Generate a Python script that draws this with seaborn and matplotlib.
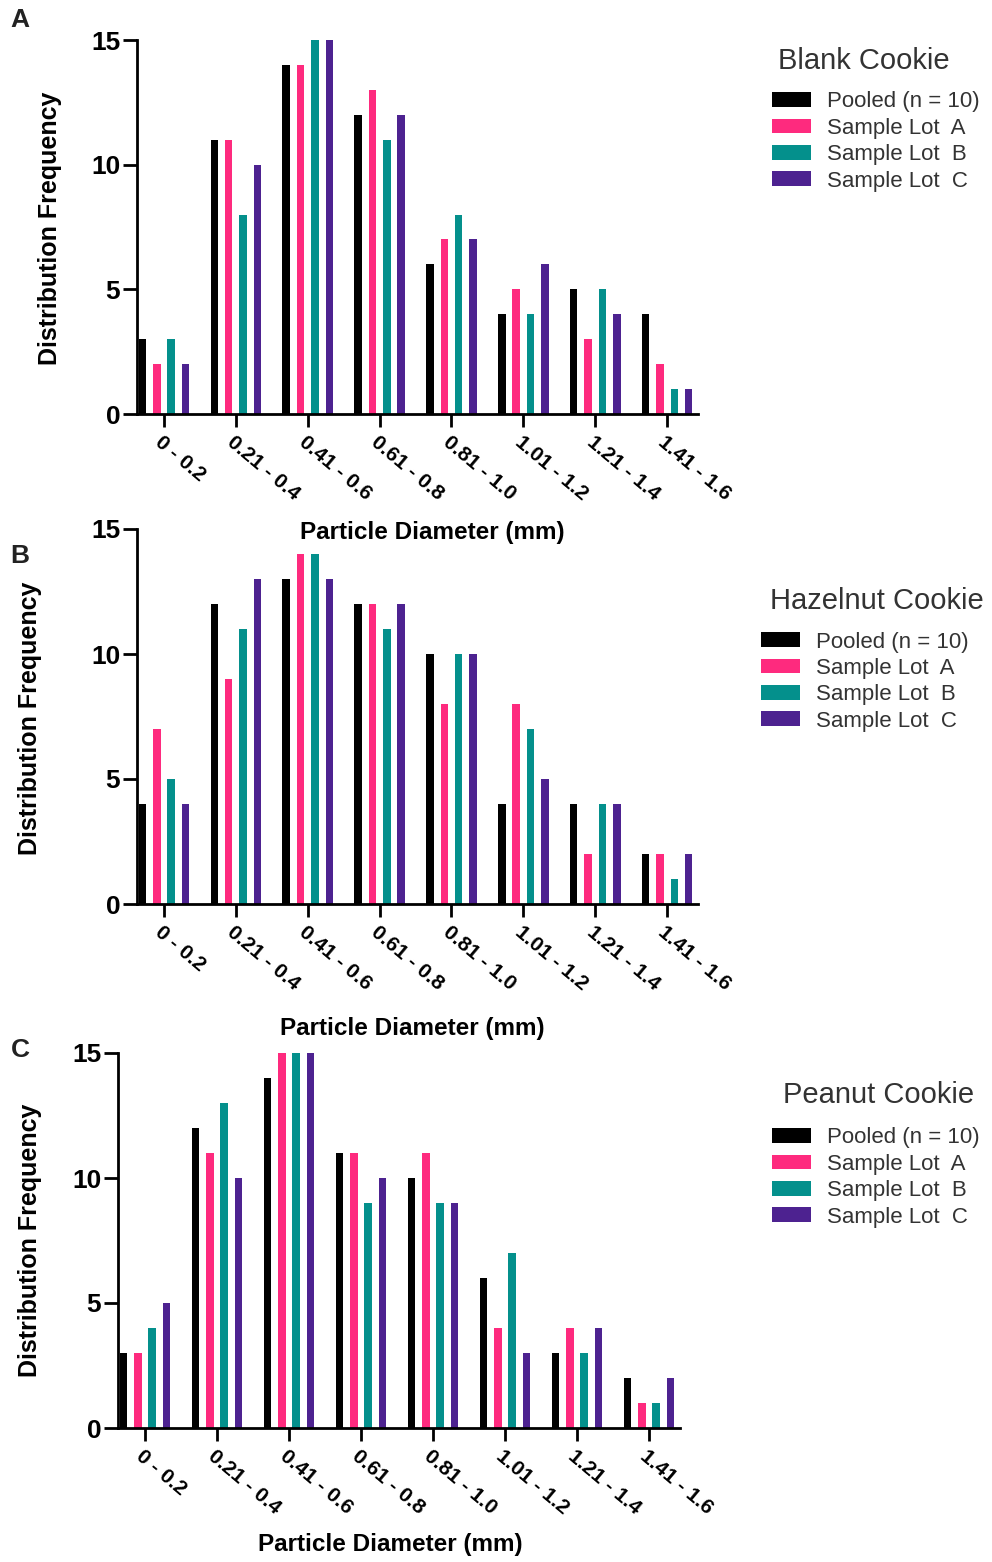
import numpy as np
import pandas as pd
import matplotlib
matplotlib.use("Agg")
import matplotlib.pyplot as plt
from matplotlib.patches import Patch
import seaborn as sns

# particle size bins (mm) and series
bins = ["0 - 0.2", "0.21 - 0.4", "0.41 - 0.6", "0.61 - 0.8",
        "0.81 - 1.0", "1.01 - 1.2", "1.21 - 1.4", "1.41 - 1.6"]
series = ["Pooled (n = 10)", "Sample Lot  A", "Sample Lot  B", "Sample Lot  C"]
colors = ["#000000", "#fe2a7e", "#04908c", "#4d2290"]

# A - blank cookie
blank_pooled = [3, 11, 14, 12, 6, 4, 5, 4]
blank_lot_a = [2, 11, 14, 13, 7, 5, 3, 2]
blank_lot_b = [3, 8, 15, 11, 8, 4, 5, 1]
blank_lot_c = [2, 10, 15, 12, 7, 6, 4, 1]

# B - hazelnut cookie
hazel_pooled = [4, 12, 13, 12, 10, 4, 4, 2]
hazel_lot_a = [7, 9, 14, 12, 8, 8, 2, 2]
hazel_lot_b = [5, 11, 14, 11, 10, 7, 4, 1]
hazel_lot_c = [4, 13, 13, 12, 10, 5, 4, 2]

# C - peanut cookie
peanut_pooled = [3, 12, 14, 11, 10, 6, 3, 2]
peanut_lot_a = [3, 11, 15, 11, 11, 4, 4, 1]
peanut_lot_b = [4, 13, 15, 9, 9, 7, 3, 1]
peanut_lot_c = [5, 10, 15, 10, 9, 3, 4, 2]

panels = [
    ("A", "Blank Cookie", [blank_pooled, blank_lot_a, blank_lot_b, blank_lot_c]),
    ("B", "Hazelnut Cookie", [hazel_pooled, hazel_lot_a, hazel_lot_b, hazel_lot_c]),
    ("C", "Peanut Cookie", [peanut_pooled, peanut_lot_a, peanut_lot_b, peanut_lot_c]),
]

sns.set_style("ticks", {"axes.edgecolor": "black", "xtick.color": "black",
                        "ytick.color": "black", "text.color": "black",
                        "axes.labelcolor": "black"})
plt.rcParams['font.family'] = ['Liberation Sans', 'DejaVu Sans']

W, H = 992, 1562
fig = plt.figure(figsize=(W / 100, H / 100), dpi=100)

# layout in pixels: axes box, label centres, panel letter, legend title and entries
layout = [
    dict(l=137, r=698, t=40, b=414, xl=(432, 533), yl=(50, 228), let=(20, 20),
         title=(778, 61), leg=(772, 91.5)),
    dict(l=137, r=698, t=529, b=904, xl=(412, 1028), yl=(30, 718), let=(20, 556),
         title=(770, 601), leg=(761, 631.5)),
    dict(l=118, r=680, t=1053, b=1428, xl=(390, 1545), yl=(30, 1240), let=(20, 1050),
         title=(783, 1095), leg=(772, 1127.5)),
]

for (letter, title, vals), lay in zip(panels, layout):
    ax = fig.add_axes([lay['l'] / W, 1 - lay['b'] / H,
                       (lay['r'] - lay['l']) / W, (lay['b'] - lay['t']) / H])
    ax.set_facecolor('none')
    df = pd.DataFrame({
        'bin': np.tile(bins, len(series)),
        'series': np.repeat(series, len(bins)),
        'freq': np.concatenate(vals),
    })
    sns.barplot(data=df, x='bin', y='freq', hue='series', hue_order=series,
                palette=colors, saturation=1, width=0.8, gap=0.48, errorbar=None,
                linewidth=0, legend=False, ax=ax)

    ax.set_ylim(0, 15)
    ax.set_xlim(-0.375, 7.43)
    ax.set_yticks([0, 5, 10, 15])
    sns.despine(ax=ax)
    for s in ['left', 'bottom']:
        ax.spines[s].set_linewidth(2.0)
    ax.tick_params(axis='y', length=10, width=2.0, pad=2, labelsize=19)
    ax.tick_params(axis='x', length=9, width=2.0, pad=4, labelsize=15)
    for lab in ax.get_yticklabels():
        lab.set_fontweight('bold')
    for lab in ax.get_xticklabels():
        lab.set_fontweight('bold')
        lab.set_rotation(-40)
        lab.set_ha('left')
        lab.set_va('top')
        lab.set_rotation_mode('anchor')

    ax.set_xlabel("Particle Diameter (mm)", fontsize=17.5, fontweight='bold')
    ax.set_ylabel("Distribution Frequency", fontsize=18, fontweight='bold')
    ax.xaxis.set_label_coords((lay['xl'][0] - lay['l']) / (lay['r'] - lay['l']),
                              (lay['b'] - lay['xl'][1]) / (lay['b'] - lay['t']))
    ax.xaxis.label.set_va('center')
    ax.yaxis.set_label_coords((lay['yl'][0] - lay['l']) / (lay['r'] - lay['l']),
                              (lay['b'] - lay['yl'][1]) / (lay['b'] - lay['t']))
    ax.yaxis.label.set_va('center')

    fig.text(lay['let'][0] / W, 1 - lay['let'][1] / H, letter, fontsize=19,
             fontweight='bold', color='#222222', ha='center', va='center')

    fig.text(lay['title'][0] / W, 1 - lay['title'][1] / H, title, fontsize=21,
             color='#333333', ha='left', va='center')
    handles = [Patch(facecolor=c, edgecolor='none', label=s) for c, s in zip(colors, series)]
    ax.legend(handles=handles, loc='upper left',
              bbox_to_anchor=(lay['leg'][0] / W, 1 - lay['leg'][1] / H),
              bbox_transform=fig.transFigure, frameon=False, fontsize=16,
              handlelength=1.76, handleheight=0.63, handletextpad=0.72,
              labelspacing=0.24, borderpad=0, borderaxespad=0,
              labelcolor='#333333')

fig.savefig("out.png", dpi=100)
